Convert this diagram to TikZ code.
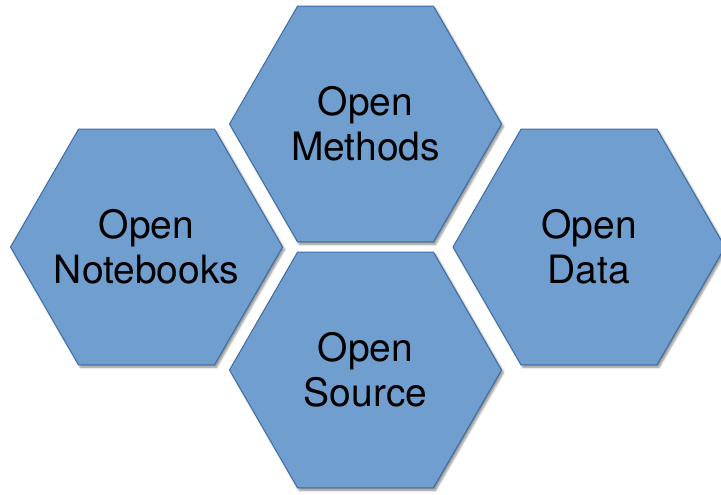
\documentclass[tikz,border=0pt]{standalone}
\usepackage{fontspec}
\setmainfont{TeX Gyre Heros}
\usetikzlibrary{shapes.geometric,shadows.blur}
\definecolor{hexfill}{RGB}{111,158,207}
\definecolor{hexline}{RGB}{60,108,165}

\begin{document}
\begin{tikzpicture}[x=1pt,y=-1pt,
  hexcell/.style={regular polygon,regular polygon sides=6,minimum size=272pt,
    inner sep=0pt,outer sep=0pt,fill=hexfill,draw=hexline,line width=1pt,
    blur shadow={shadow xshift=2pt,shadow yshift=-2.5pt,shadow blur steps=6,shadow opacity=45},
    label={[align=center,font=\fontsize{39}{45}\selectfont]center:#1}}]
  \useasboundingbox (0,0) rectangle (721,495);
  \node[hexcell={Open\\Methods}]   (methods)   at (365.5,124) {};
  \node[hexcell={Open\\Notebooks}] (notebooks) at (146.5,247) {};
  \node[hexcell={Open\\Data}]      (data)      at (589,247)   {};
  \node[hexcell={Open\\Source}]    (source)    at (365.5,370) {};
\end{tikzpicture}
\end{document}
